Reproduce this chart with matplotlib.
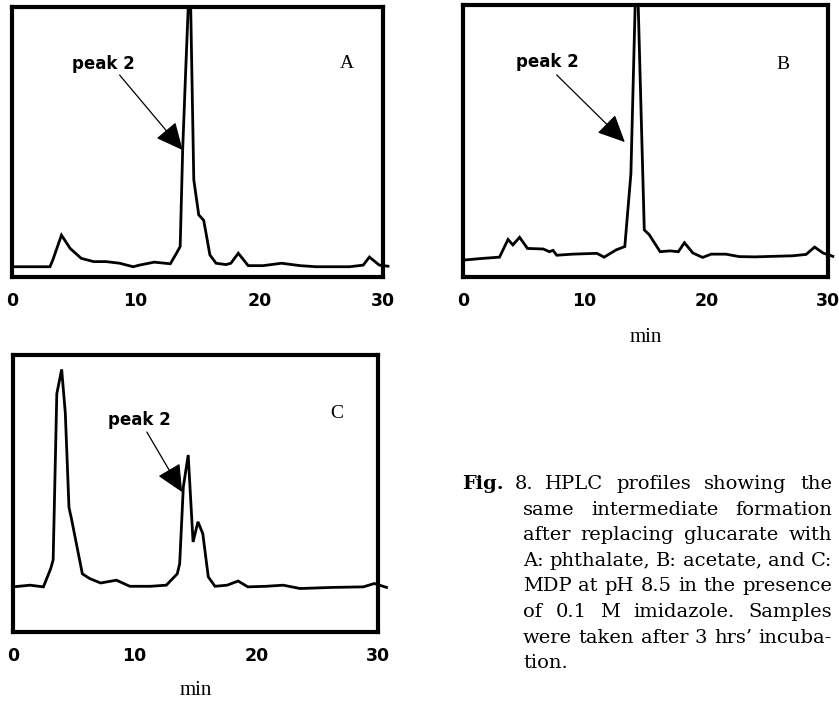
import matplotlib
matplotlib.use("Agg")
import matplotlib.pyplot as plt

# retention time (min) and detector signal (arbitrary, 0 = frame bottom, 100 = frame top)
time_a = [0, 1.5, 3.07, 3.3, 4.0, 4.7, 5.6, 6.6, 7.6, 8.7, 9.8, 10.3, 11.5, 12.8, 13.3,
          13.6, 13.8, 14.05, 14.25, 14.45, 14.7, 15.1, 15.5, 15.7, 16.0, 16.5, 17.3,
          17.7, 18.3, 19.1, 20.3, 21.8, 23.3, 24.6, 27.3, 28.4, 28.9, 29.7, 30.4]
signal_a = [3.8, 3.8, 3.8, 6.3, 15.5, 10.6, 6.9, 5.7, 5.7, 5.1, 3.8, 4.4, 5.5, 4.9, 8.8,
            11.3, 47, 77, 100, 100, 36, 23, 21, 16, 8.2, 5.1, 4.6,
            5.1, 8.8, 4.2, 4.2, 5.1, 4.2, 3.8, 3.8, 4.4, 7.4, 4.4, 4.0]

time_b = [0, 1.5, 3.0, 3.7, 4.1, 4.65, 5.3, 6.6, 7.1, 7.4, 7.7, 9.0, 11.0, 11.6, 12.6,
          13.3, 13.8, 14.15, 14.4, 14.9, 15.3, 16.2, 17.0, 17.7, 18.2, 18.9, 19.7,
          20.4, 21.6, 22.7, 24.0, 25.5, 27.1, 28.2, 28.9, 29.6, 30.4]
signal_b = [6.2, 6.8, 7.3, 13.8, 11.8, 14.6, 10.5, 10.3, 9.3, 9.8, 8.0, 8.4, 8.7, 7.3, 10.0,
            11.2, 38, 100, 100, 17.3, 15.6, 9.3, 9.6, 9.3, 12.6, 8.8, 7.2,
            8.4, 8.4, 7.5, 7.4, 7.6, 7.8, 8.3, 11.0, 8.8, 7.6]

time_c = [0, 1.4, 2.5, 3.1, 3.3, 3.6, 4.0, 4.3, 4.6, 4.8, 5.7, 6.3, 7.2, 8.5, 9.6, 11.3,
          12.6, 13.5, 13.7, 14.0, 14.4, 14.8, 15.2, 15.6, 16.05, 16.6, 17.6, 18.5,
          19.3, 20.8, 22.2, 23.6, 26.3, 28.8, 29.7, 30.7]
signal_c = [16.3, 16.9, 16.3, 22.9, 26, 86, 94.8, 79, 45, 41, 21, 19.3, 17.7, 18.7, 16.5, 16.5,
            16.9, 21, 24.7, 52.4, 63.9, 32.5, 39.8, 35.5, 19.9, 16.5, 16.9, 18.4,
            16.3, 16.5, 16.9, 15.7, 16.1, 16.3, 17.5, 16.1]

x_ticks = [0, 10, 20, 30]
panel_letters = ["A", "B", "C"]

# annotation anchors: (text x, text y, arrow start x, y, arrow tip x, y, letter x, y)
notes = [
    (7.4, 79, 8.7, 74.8, 13.8, 47, 27.1, 79),
    (6.9, 79, 7.7, 74.3, 13.3, 49.6, 26.3, 78),
    (10.4, 76.5, 11.0, 72.2, 13.9, 50.5, 26.6, 79),
]

caption_head = ["Fig.", "8."]
caption = [
    "HPLC profiles showing the",
    "same intermediate formation",
    "after replacing glucarate with",
    "A: phthalate, B: acetate, and C:",
    "MDP at pH 8.5 in the presence",
    "of 0.1 M imidazole. Samples",
    "were taken after 3 hrs\u2019 incuba-",
    "tion.",
]

W, H = 839, 701
fig = plt.figure(figsize=(W / 100, H / 100), dpi=100)

# axes boxes in pixels: left, top, right, bottom
boxes = [(12, 7, 383, 277), (463, 5, 828, 277), (13, 355, 378, 632)]
series = [(time_a, signal_a), (time_b, signal_b), (time_c, signal_c)]
label_pads = [0, 13, 11]

for k, (l, t, r, b) in enumerate(boxes):
    ax = fig.add_axes([l / W, (H - b) / H, (r - l) / W, (b - t) / H])
    tx, sy = series[k]
    ax.plot(tx, sy, color="black", lw=2.0, clip_on=False, solid_joinstyle="miter")
    ax.set_xlim(0, 30)
    ax.set_ylim(0, 100)
    ax.set_yticks([])
    ax.set_xticks(x_ticks)
    ax.set_xticklabels([str(v) for v in x_ticks], fontfamily="DejaVu Sans",
                       fontweight="bold", fontsize=12.5)
    ax.tick_params(axis="x", length=0, pad=11)
    for s in ax.spines.values():
        s.set_linewidth(3)
        s.set_color("black")
    if k > 0:
        ax.set_xlabel("min", fontfamily="Liberation Serif", fontsize=15,
                      labelpad=label_pads[k])

    px, py, sx, sy0, ex, ey, lx, ly = notes[k]
    ax.text(px, py, "peak 2", ha="center", va="center", fontfamily="DejaVu Sans",
            fontweight="bold", fontsize=12)
    ax.annotate("", xy=(ex, ey), xytext=(sx, sy0),
                arrowprops=dict(arrowstyle="-|>,head_length=1.7,head_width=0.8",
                                mutation_scale=10, color="black", lw=0.9,
                                shrinkA=0, shrinkB=0))
    ax.text(lx, ly, panel_letters[k], ha="center", va="center",
            fontfamily="Liberation Serif", fontsize=14)

# justified caption with hanging indent
renderer = fig.canvas.get_renderer()
head_x = [462, 515]
first_left, indent_left, right = 545, 523, 832
base0, step = 489, 25.6
cap_font = dict(fontfamily="DejaVu Serif", fontsize=14)

y0 = (H - base0) / H
fig.text(head_x[0] / W, y0, caption_head[0], va="baseline", ha="left",
         fontweight="bold", **cap_font)
fig.text(head_x[1] / W, y0, caption_head[1], va="baseline", ha="left", **cap_font)

for i, line in enumerate(caption):
    words = line.split(" ")
    left = first_left if i == 0 else indent_left
    y = (H - (base0 + i * step)) / H
    items = [fig.text(0, y, w, va="baseline", ha="left", **cap_font) for w in words]
    widths = [it.get_window_extent(renderer).width for it in items]
    if i == len(caption) - 1 or len(words) == 1:
        gap = 5.0
    else:
        gap = (right - left - sum(widths)) / (len(words) - 1)
    x = left
    for it, wd in zip(items, widths):
        it.set_x(x / W)
        x += wd + gap

fig.savefig("out.png", dpi=100)
